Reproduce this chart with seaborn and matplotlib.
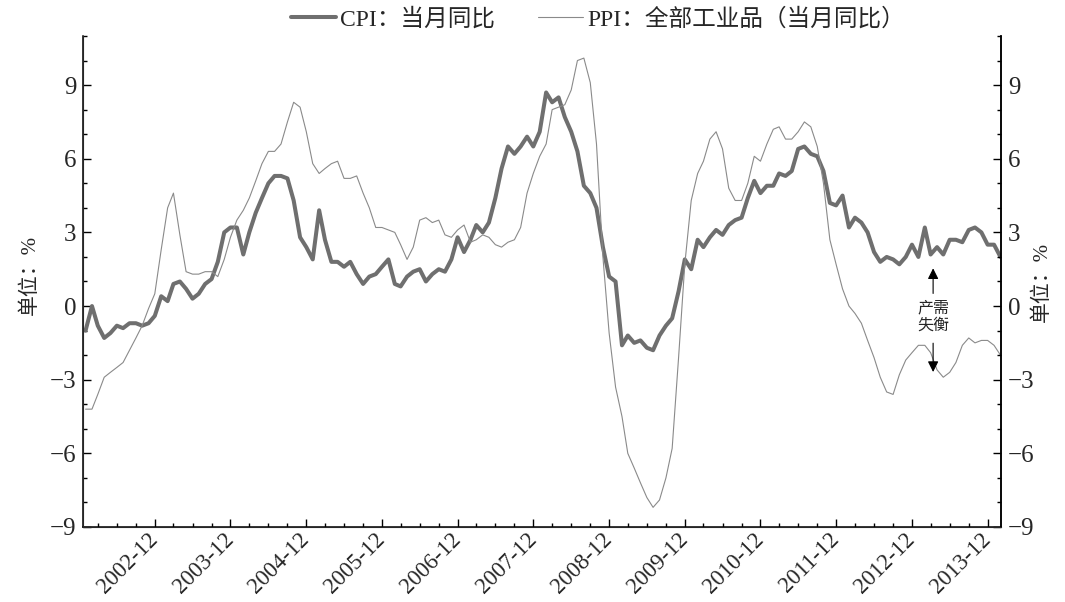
import numpy as np
import pandas as pd
import matplotlib
matplotlib.use('Agg')
import matplotlib.pyplot as plt
import matplotlib.dates as mdates
from matplotlib.ticker import MultipleLocator
import seaborn as sns

# CPI / PPI 当月同比, 2002-01 ~ 2014-02
cpi = [
    -1.0, 0.0, -0.8, -1.3, -1.1, -0.8, -0.9, -0.7, -0.7, -0.8, -0.7, -0.4,   # 2002
    0.4, 0.2, 0.9, 1.0, 0.7, 0.3, 0.5, 0.9, 1.1, 1.8, 3.0, 3.2,             # 2003
    3.2, 2.1, 3.0, 3.8, 4.4, 5.0, 5.3, 5.3, 5.2, 4.3, 2.8, 2.4,             # 2004
    1.9, 3.9, 2.7, 1.8, 1.8, 1.6, 1.8, 1.3, 0.9, 1.2, 1.3, 1.6,             # 2005
    1.9, 0.9, 0.8, 1.2, 1.4, 1.5, 1.0, 1.3, 1.5, 1.4, 1.9, 2.8,             # 2006
    2.2, 2.7, 3.3, 3.0, 3.4, 4.4, 5.6, 6.5, 6.2, 6.5, 6.9, 6.5,             # 2007
    7.1, 8.7, 8.3, 8.5, 7.7, 7.1, 6.3, 4.9, 4.6, 4.0, 2.4, 1.2,             # 2008
    1.0, -1.6, -1.2, -1.5, -1.4, -1.7, -1.8, -1.2, -0.8, -0.5, 0.6, 1.9,    # 2009
    1.5, 2.7, 2.4, 2.8, 3.1, 2.9, 3.3, 3.5, 3.6, 4.4, 5.1, 4.6,             # 2010
    4.9, 4.9, 5.4, 5.3, 5.5, 6.4, 6.5, 6.2, 6.1, 5.5, 4.2, 4.1,             # 2011
    4.5, 3.2, 3.6, 3.4, 3.0, 2.2, 1.8, 2.0, 1.9, 1.7, 2.0, 2.5,             # 2012
    2.0, 3.2, 2.1, 2.4, 2.1, 2.7, 2.7, 2.6, 3.1, 3.2, 3.0, 2.5,             # 2013
    2.5, 2.0,                                                               # 2014
]
ppi = [
    -4.2, -4.2, -3.6, -2.9, -2.7, -2.5, -2.3, -1.8, -1.3, -0.8, -0.1, 0.5,  # 2002
    2.3, 4.0, 4.6, 2.9, 1.4, 1.3, 1.3, 1.4, 1.4, 1.2, 1.9, 2.8,             # 2003
    3.5, 3.9, 4.4, 5.1, 5.8, 6.3, 6.3, 6.6, 7.5, 8.3, 8.1, 7.1,             # 2004
    5.8, 5.4, 5.6, 5.8, 5.9, 5.2, 5.2, 5.3, 4.6, 4.0, 3.2, 3.2,             # 2005
    3.1, 3.0, 2.5, 1.9, 2.4, 3.5, 3.6, 3.4, 3.5, 2.9, 2.8, 3.1,             # 2006
    3.3, 2.6, 2.7, 2.9, 2.8, 2.5, 2.4, 2.6, 2.7, 3.2, 4.6, 5.4,             # 2007
    6.1, 6.6, 8.0, 8.1, 8.2, 8.8, 10.0, 10.1, 9.1, 6.6, 2.0, -1.1,          # 2008
    -3.3, -4.5, -6.0, -6.6, -7.2, -7.8, -8.2, -7.9, -7.0, -5.8, -2.1, 1.7,  # 2009
    4.3, 5.4, 5.9, 6.8, 7.1, 6.4, 4.8, 4.3, 4.3, 5.0, 6.1, 5.9,             # 2010
    6.6, 7.2, 7.3, 6.8, 6.8, 7.1, 7.5, 7.3, 6.5, 5.0, 2.7, 1.7,             # 2011
    0.7, 0.0, -0.3, -0.7, -1.4, -2.1, -2.9, -3.5, -3.6, -2.8, -2.2, -1.9,   # 2012
    -1.6, -1.6, -1.9, -2.6, -2.9, -2.7, -2.3, -1.6, -1.3, -1.5, -1.4, -1.4, # 2013
    -1.6, -2.0,                                                             # 2014
]
months = pd.date_range('2002-01-01', periods=len(cpi), freq='MS')
y_ticks = [-9, -6, -3, 0, 3, 6, 9]

df = pd.DataFrame({'月份': months, 'CPI': cpi, 'PPI': ppi})

sns.set_style('ticks')
plt.rcParams['font.family'] = ['Liberation Serif', 'Noto Sans CJK SC']
plt.rcParams['axes.unicode_minus'] = True

fig = plt.figure(figsize=(10.65, 6.02), dpi=100)
ax = fig.add_axes([0.078, 0.1246, 0.862, 0.8156])

sns.lineplot(data=df, x='月份', y='CPI', ax=ax, color='#6f6f6f', linewidth=2.9,
             label='CPI：当月同比')
sns.lineplot(data=df, x='月份', y='PPI', ax=ax, color='#8a8a8a', linewidth=0.8,
             label='PPI：全部工业品（当月同比）')

ax.set_xlim(months[0] - pd.Timedelta(days=12), months[-1] + pd.Timedelta(days=3))
ax.set_ylim(-9, 11)
ax.set_yticks(y_ticks)
ax.yaxis.set_minor_locator(MultipleLocator(1))
ax.xaxis.set_major_locator(mdates.MonthLocator(bymonth=12))
ax.xaxis.set_major_formatter(mdates.DateFormatter('%Y-%m'))
ax.xaxis.set_minor_locator(mdates.MonthLocator(bymonth=[3, 6, 9]))
ax.set_xlabel('')
ax.set_ylabel('单位：%', fontsize=15)
ax.yaxis.set_label_coords(-0.047, 0.513)

ax.tick_params(axis='both', which='both', direction='in', color='black', width=1)
ax.tick_params(axis='both', which='major', length=6)
ax.tick_params(axis='both', which='minor', length=3)
ax.tick_params(axis='y', labelsize=18, pad=5)
ax.tick_params(axis='x', labelsize=16.5, pad=7)
for lab in ax.get_xticklabels():
    lab.set_rotation(45)
    lab.set_ha('right')
    lab.set_va('center')
    lab.set_rotation_mode('anchor')

for s in ['left', 'bottom', 'right']:
    ax.spines[s].set_color('black')
    ax.spines[s].set_linewidth(1.1)
ax.spines['top'].set_visible(False)

# 右轴
ax2 = ax.twinx()
ax2.set_ylim(-9, 11)
ax2.set_yticks(y_ticks)
ax2.yaxis.set_minor_locator(MultipleLocator(1))
ax2.tick_params(axis='y', which='both', direction='in', color='black', width=1, labelsize=18, pad=5)
ax2.tick_params(axis='y', which='major', length=6)
ax2.tick_params(axis='y', which='minor', length=3)
ax2.set_ylabel('单位：%', fontsize=15, rotation=90)
ax2.yaxis.set_label_coords(1.034, 0.5)
ax2.spines['top'].set_visible(False)
ax2.spines['right'].set_color('black')
ax2.spines['right'].set_linewidth(1.1)

# 标注
xa = pd.Timestamp('2013-03-13')
ax.text(xa, -0.45, '产需\n失衡', ha='center', va='center', fontsize=11.5, linespacing=1.1)
ax.annotate('', xy=(xa, 1.65), xytext=(xa, 0.4),
            arrowprops=dict(arrowstyle='-|>', color='black', lw=0.8, mutation_scale=16))
ax.annotate('', xy=(xa, -2.8), xytext=(xa, -1.4),
            arrowprops=dict(arrowstyle='-|>', color='black', lw=0.8, mutation_scale=16))

# 图例
ax.legend(loc='center', bbox_to_anchor=(598 / 1065, 0.968), bbox_transform=fig.transFigure,
          ncol=2, frameon=False, fontsize=17, handlelength=1.9, handletextpad=0.2,
          columnspacing=1.8)

plt.savefig('out.png', dpi=100)
